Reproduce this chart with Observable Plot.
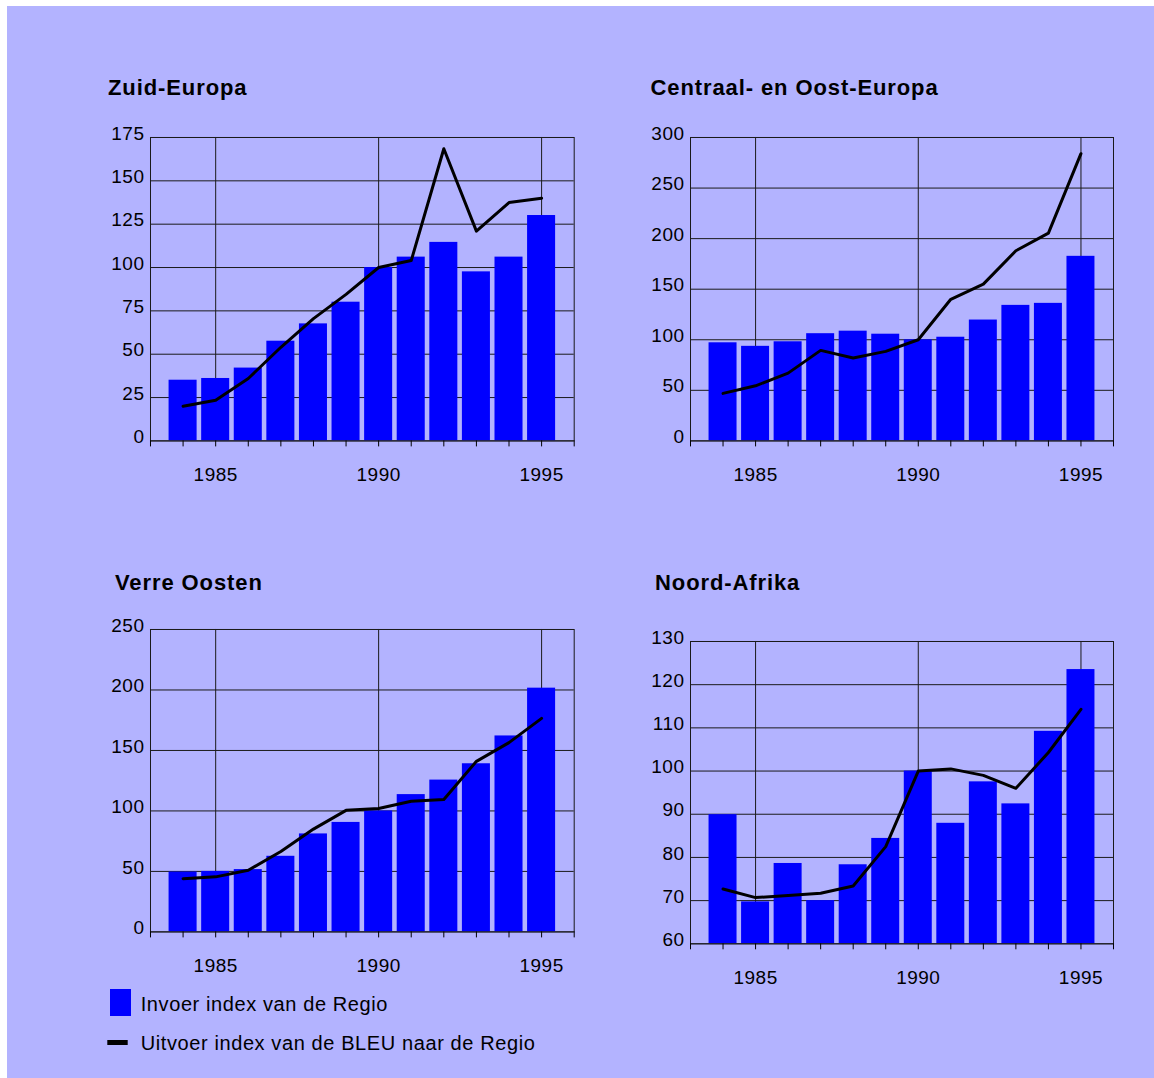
<!DOCTYPE html>
<html>
<head>
<meta charset="utf-8">
<script src="https://cdn.jsdelivr.net/npm/d3@7"></script>
<script src="https://cdn.jsdelivr.net/npm/@observablehq/plot@0.6"></script>
<style>
  html, body { margin: 0; padding: 0; background: #ffffff; width: 1154px; height: 1078px; overflow: hidden; }
  #bg { position: absolute; left: 7px; top: 6px; width: 1147px; height: 1072px; background: #b3b3ff; }
  #page { position: absolute; left: 0; top: 0; width: 1154px; height: 1078px; }
  svg.overlay { position: absolute; left: 0; top: 0; }
</style>
</head>
<body>
<div id="bg"></div>
<div id="page"></div>
<script>
// ---------- DATA ----------
const years = [1984, 1985, 1986, 1987, 1988, 1989, 1990, 1991, 1992, 1993, 1994, 1995];
const tickYears = [1983, 1984, 1985, 1986, 1987, 1988, 1989, 1990, 1991, 1992, 1993, 1994, 1995, 1996];
const labelYears = [1985, 1990, 1995];

const titles = ["Zuid-Europa", "Centraal- en Oost-Europa", "Verre Oosten", "Noord-Afrika"];

const zuidImport = [35, 36, 42, 57.5, 67.5, 80, 100, 106, 114.5, 97.5, 106, 130];
const zuidExport = [20, 23.5, 36, 54, 70.5, 84.5, 100, 104, 168.5, 121, 137.5, 140];
const zuidTicks = [0, 25, 50, 75, 100, 125, 150, 175];

const coeImport = [97, 93.5, 98, 106, 108.5, 105.5, 100, 102.5, 119.5, 134, 136, 182.5];
const coeExport = [47, 54.5, 67, 89.5, 82, 88.5, 100, 140, 155, 188, 205.5, 284];
const coeTicks = [0, 50, 100, 150, 200, 250, 300];

const vooImport = [49.5, 50, 51.5, 62.5, 81, 90.5, 100, 113.5, 125.5, 139, 162, 201.5];
const vooExport = [44, 45.5, 51, 66.5, 85, 100.5, 102, 108, 109.5, 141, 156.5, 176.5];
const vooTicks = [0, 50, 100, 150, 200, 250];

const naImport = [89.9, 69.7, 78.6, 70, 78.3, 84.4, 100, 87.9, 97.5, 92.4, 109.2, 123.5];
const naExport = [72.7, 70.7, 71.2, 71.7, 73.4, 82.5, 100, 100.5, 99, 96, 104.3, 114.3];
const naTicks = [60, 70, 80, 90, 100, 110, 120, 130];

const legendLabels = ["Invoer index van de Regio", "Uitvoer index van de BLEU naar de Regio"];

// ---------- STYLE ----------
const FONT = "'Liberation Sans', Arial, Helvetica, sans-serif";
const BAR = "#0000ff";
const GRID = "#1a1a1a";

const page = document.getElementById("page");

function panel(imp, exp, yTicks, frameLeft, frameTop, frameW, frameH) {
  const data = years.map((y, i) => ({year: y, imp: imp[i], exp: exp[i]}));
  const base = yTicks[0];
  const mL = 60, mR = 12, mT = 12, mB = 52;
  const chart = Plot.plot({
    width: mL + frameW + mR,
    height: mT + frameH + mB,
    marginLeft: mL, marginRight: mR, marginTop: mT, marginBottom: mB,
    x: {type: "linear", domain: [1983, 1996]},
    y: {type: "linear", domain: [yTicks[0], yTicks[yTicks.length - 1]]},
    style: {background: "transparent", fontFamily: FONT, fontSize: "19px", color: "black", letterSpacing: "0.5px", overflow: "visible"},
    marks: [
      Plot.gridY(yTicks, {stroke: GRID, strokeOpacity: 1}),
      Plot.gridX(labelYears, {stroke: GRID, strokeOpacity: 1}),
      Plot.rectY(data, {x1: d => d.year - 0.43, x2: d => d.year + 0.43, y1: () => base, y2: "imp", fill: BAR}),
      Plot.frame({stroke: GRID}),
      Plot.axisX(tickYears, {label: null, tickSize: 6, tickPadding: 21, tickFormat: d => labelYears.includes(d) ? String(d) : ""}),
      Plot.axisY(yTicks, {label: null, tickSize: 0, tickPadding: 6, dy: -4}),
      Plot.lineY(data, {x: "year", y: "exp", stroke: "black", strokeWidth: 3})
    ]
  });
  chart.style.position = "absolute";
  chart.style.left = (frameLeft - mL) + "px";
  chart.style.top = (frameTop - mT) + "px";
  page.appendChild(chart);
}

panel(zuidImport, zuidExport, zuidTicks, 150.3, 137.3, 423.7, 303.4);
panel(coeImport, coeExport, coeTicks, 690.3, 137.3, 423, 303.4);
panel(vooImport, vooExport, vooTicks, 150.3, 629.3, 423.7, 302.4);
panel(naImport, naExport, naTicks, 690.3, 640.7, 423, 302.3);

// ---------- TITLES & LEGEND ----------
const svg = d3.select("#page").append("svg")
  .attr("class", "overlay")
  .attr("width", 1154).attr("height", 1078)
  .style("font-family", FONT);

const titlePos = [[108, 95], [650.5, 95], [115, 590], [655, 590]];
titles.forEach((t, i) => {
  svg.append("text")
    .attr("x", titlePos[i][0]).attr("y", titlePos[i][1])
    .attr("font-size", 22).attr("font-weight", "bold")
    .style("letter-spacing", "0.9px")
    .attr("fill", "black")
    .text(t);
});

svg.append("rect").attr("x", 110).attr("y", 989).attr("width", 21).attr("height", 27).attr("fill", BAR);
svg.append("rect").attr("x", 107.3).attr("y", 1040).attr("width", 20.4).attr("height", 5).attr("fill", "black");
svg.append("text").attr("x", 140.7).attr("y", 1011).attr("font-size", 20).style("letter-spacing", "0.6px").attr("fill", "black").text(legendLabels[0]);
svg.append("text").attr("x", 140.7).attr("y", 1050).attr("font-size", 20).style("letter-spacing", "0.6px").attr("fill", "black").text(legendLabels[1]);
</script>
</body>
</html>
